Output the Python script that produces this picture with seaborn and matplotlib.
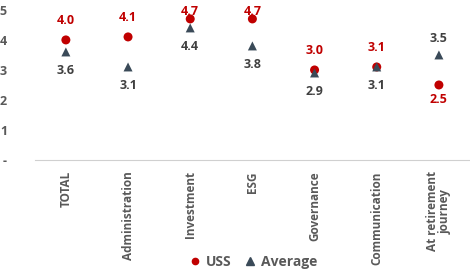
import seaborn as sns
import matplotlib.pyplot as plt
import pandas as pd
from matplotlib.lines import Line2D

categories = ["TOTAL", "Administration", "Investment", "ESG", "Governance",
              "Communication", "At retirement\njourney"]
uss = [4.0, 4.1, 4.7, 4.7, 3.0, 3.1, 2.5]
average = [3.6, 3.1, 4.4, 3.8, 2.9, 3.1, 3.5]

df = pd.DataFrame({"cat": categories * 2,
                   "score": uss + average,
                   "series": ["USS"] * 7 + ["Average"] * 7})

red = "#C00000"
slate = "#3A4A58"
grey = "#595959"

plt.rcParams["font.family"] = ["Open Sans", "DejaVu Sans"]
fig = plt.figure(figsize=(4.7, 2.75), dpi=100)
ax = fig.add_axes([0.074, 0.418, 0.926, 0.546])

sns.scatterplot(data=df, x="cat", y="score", hue="series", style="series",
                palette={"USS": red, "Average": slate},
                markers={"USS": "o", "Average": "^"},
                s=42, edgecolor="none", ax=ax, legend=False, zorder=3)

# data labels (kept inside the plot area near the top, like Excel does)
for i, (u, a) in enumerate(zip(uss, average)):
    if u >= a:
        up = 9 if u < 4.5 else 1
        ax.annotate(f"{u:.1f}", (i, u), xytext=(0, up), textcoords="offset points",
                    ha="center", va="bottom", color=red, fontsize=9,
                    fontweight="bold", zorder=4)
        ax.annotate(f"{a:.1f}", (i, a), xytext=(0, -9), textcoords="offset points",
                    ha="center", va="top", color="#404040", fontsize=9, fontweight="bold")
    else:
        ax.annotate(f"{a:.1f}", (i, a), xytext=(0, 7), textcoords="offset points",
                    ha="center", va="bottom", color="#404040", fontsize=9, fontweight="bold")
        ax.annotate(f"{u:.1f}", (i, u), xytext=(0, -6), textcoords="offset points",
                    ha="center", va="top", color=red, fontsize=9, fontweight="bold")

ax.set_xlim(-0.5, 6.5)
ax.set_ylim(0, 5)
ax.set_yticks([0, 1, 2, 3, 4, 5])
ax.set_yticklabels(["-", "1", "2", "3", "4", "5"])
ax.set_xticks(range(7))
ax.set_xticklabels(categories, rotation=90, ha="center", va="top", linespacing=1.0)
for lab in ax.get_xticklabels():
    lab.set_fontsize(8.5)
for lab in ax.get_xticklabels() + ax.get_yticklabels():
    lab.set_color(grey)
    lab.set_fontweight("bold")
for lab in ax.get_yticklabels():
    lab.set_fontsize(9)
ax.tick_params(axis="x", length=0, pad=8)
ax.tick_params(axis="y", length=0, pad=20)
for s in ["top", "right", "left"]:
    ax.spines[s].set_visible(False)
ax.spines["bottom"].set_color("#D0D0D0")
ax.set_xlabel("")
ax.set_ylabel("")

# legend
handles = [Line2D([], [], marker="o", color=red, linestyle="", markersize=4.5),
           Line2D([], [], marker="^", color=slate, linestyle="", markersize=5.5)]
leg = fig.legend(handles, ["USS", "Average"], loc="center", bbox_to_anchor=(0.53, 0.047),
                 ncol=2, frameon=False, handletextpad=-0.2, columnspacing=0.3,
                 prop={"weight": "bold", "size": 10})
for t in leg.get_texts():
    t.set_color(grey)

fig.savefig("out.png", dpi=100)
